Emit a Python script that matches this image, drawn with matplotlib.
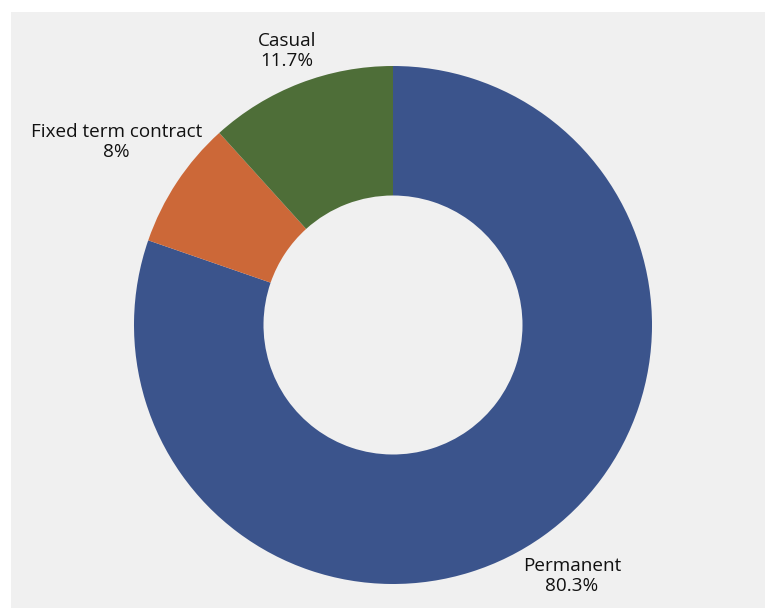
import matplotlib

matplotlib.use("Agg")
import matplotlib.pyplot as plt
import numpy as np
from matplotlib.patches import Rectangle

categories = ["Permanent", "Fixed term contract", "Casual"]
shares = [80.3, 8.0, 11.7]
share_labels = ["80.3%", "8%", "11.7%"]
colors = ["#3b548c", "#cc6838", "#4e6e38"]
label_dist = [1.19, 1.28, 1.135]

W, H = 765, 608
cx, cy, r = 393, 325, 259

fig = plt.figure(figsize=(W / 100, H / 100), dpi=100)
ax = fig.add_axes([0, 0, 1, 1])
ax.set_facecolor("none")
ax.axis("off")
# grey panel behind the chart, leaving a thin white margin top and left
ax.add_patch(Rectangle((11 / W, 0), 1 - 11 / W, 1 - 12 / H, transform=fig.transFigure,
                       facecolor="#f0f0f0", edgecolor="none", zorder=-5))

wedges, _ = ax.pie(shares, colors=colors, startangle=90, counterclock=False,
                   radius=1.0, wedgeprops=dict(width=0.5, linewidth=0))

for w, name, pct, d in zip(wedges, categories, share_labels, label_dist):
    mid = np.deg2rad((w.theta1 + w.theta2) / 2)
    ax.text(d * np.cos(mid), d * np.sin(mid), f"{name}\n{pct}", ha="center", va="center",
            fontsize=13.6, family="Open Sans", color="#111111", linespacing=1.15)

ax.set_xlim(-cx / r, (W - cx) / r)
ax.set_ylim(-(H - cy) / r, cy / r)
ax.set_aspect("equal")

fig.savefig("out.png", dpi=100)
